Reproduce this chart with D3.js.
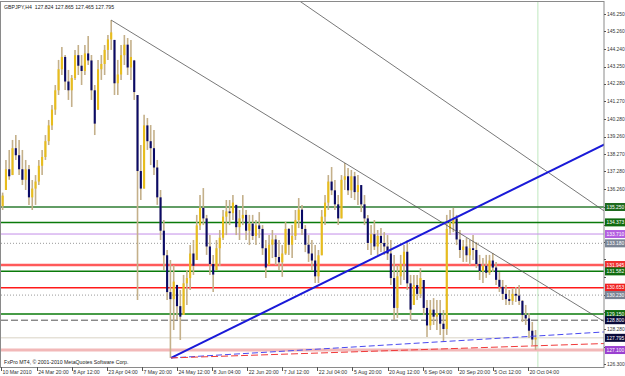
<!DOCTYPE html>
<html>
<head>
<meta charset="utf-8">
<script src="https://cdn.jsdelivr.net/npm/d3@7"></script>
<style>
body{margin:0;background:#fff;overflow:hidden}
text{font-family:"Liberation Sans", Arial, sans-serif}
</style>
</head>
<body>
<script>
// GBPJPY H4, drawn here as one candle per trading day (10 Mar - 22 Oct 2010)
let startDay = new Date(2010, 2, 10)
let nDays = 163

let opens = [
135.30,136.22,137.40,137.07,138.60,138.20,137.40,136.80,137.40,135.80,
136.30,136.70,137.60,138.10,139.00,139.90,140.80,141.90,143.10,143.80,
142.40,141.90,142.60,143.90,143.30,143.00,144.00,143.60,141.90,140.80,
143.10,143.40,144.20,144.80,144.77,142.30,142.80,143.90,144.50,143.20,
143.60,141.63,137.30,136.30,139.90,139.00,138.60,137.50,135.80,133.90,
132.50,130.40,130.00,130.81,129.60,129.10,130.90,131.20,132.60,132.23,
134.20,135.20,134.60,133.00,132.00,131.66,132.90,133.50,134.70,135.00,
134.90,135.37,134.10,134.60,134.80,133.90,134.30,133.60,134.20,134.00,
132.90,131.94,133.10,133.40,132.40,132.10,132.60,134.00,133.10,133.60,
134.50,135.10,134.00,133.10,132.60,132.20,131.30,132.50,134.70,135.50,
136.70,136.20,135.40,134.60,136.80,137.00,136.20,137.00,136.10,136.50,
135.40,134.60,133.20,133.70,133.00,133.60,133.20,133.00,132.60,131.20,
129.50,131.30,132.00,132.70,130.90,129.67,130.80,130.30,131.09,129.50,
128.50,129.40,129.00,129.20,128.60,128.30,134.00,134.30,134.60,133.40,
132.80,133.00,132.50,132.90,132.80,132.00,131.60,131.90,131.50,132.20,
131.80,131.10,130.70,130.30,130.00,129.90,130.30,130.20,129.90,129.10,
128.90,128.20,127.70]

let highs = [
136.07,137.93,138.50,139.07,139.35,139.07,138.50,137.93,137.64,136.79,
137.07,137.93,138.50,139.35,140.21,141.06,142.20,143.63,144.37,143.91,
143.06,142.77,144.20,144.48,143.91,144.48,144.99,143.91,142.20,143.63,
143.91,144.48,145.05,145.90,144.77,143.63,144.48,145.05,144.88,144.77,
143.63,141.63,138.78,140.50,140.32,139.92,139.64,137.93,136.22,134.51,
132.80,132.23,131.94,130.81,130.52,131.38,131.66,133.08,133.37,134.80,
135.93,136.33,134.80,133.65,132.52,133.37,133.94,135.08,135.65,135.65,
135.93,135.37,135.08,135.93,135.08,134.80,134.80,134.51,134.96,134.22,
133.37,133.65,133.94,133.65,133.37,133.08,134.40,134.05,134.22,135.08,
135.76,135.37,134.22,133.65,133.37,133.08,132.80,135.08,135.93,137.07,
137.53,136.79,135.93,137.07,137.76,137.47,137.36,137.25,137.07,136.50,
135.93,134.80,134.22,134.51,133.94,134.05,133.82,133.65,133.37,132.52,
131.94,132.52,133.08,133.37,131.38,131.38,131.38,131.77,131.09,129.95,
129.95,130.06,129.95,129.95,129.38,134.80,135.08,135.20,134.80,133.94,
133.37,133.48,133.37,133.65,133.25,132.52,132.34,132.52,132.52,132.63,
132.12,131.54,131.09,130.81,130.52,130.64,130.69,130.81,129.95,129.67,
129.21,128.70,128.24]

let lows = [
135.08,136.22,136.80,137.07,137.93,137.07,136.50,136.22,135.37,135.08,
135.37,136.50,137.07,137.93,138.78,139.64,140.50,141.63,142.77,141.92,
141.35,140.95,142.49,142.77,142.20,142.77,143.34,141.35,139.35,140.78,
142.49,142.77,143.63,144.20,141.63,141.63,142.49,143.34,142.77,142.49,
141.35,129.95,135.65,136.30,138.50,137.64,137.07,135.37,133.37,131.66,
129.95,126.65,128.24,128.81,127.67,129.10,129.67,130.52,131.38,132.23,
133.94,134.22,132.52,131.38,130.41,131.66,131.89,133.37,133.65,134.22,
134.51,133.65,133.37,134.22,133.37,133.08,133.37,133.08,133.48,132.52,
131.21,131.94,132.34,131.94,131.66,131.27,132.52,132.52,132.34,133.37,
134.05,133.65,132.68,132.12,131.66,130.92,130.92,132.50,134.22,135.08,
135.93,135.08,134.22,134.60,136.22,135.93,135.76,135.65,135.37,134.96,
134.22,132.80,132.52,132.80,132.52,132.68,132.52,132.23,130.81,128.81,
128.93,130.81,131.09,130.52,128.81,129.67,129.95,130.06,129.10,127.84,
128.24,128.53,128.24,127.96,127.56,127.96,133.65,133.82,133.08,132.34,
132.12,132.12,131.94,132.23,131.77,131.09,130.92,131.21,131.38,131.54,
130.81,130.41,129.95,129.67,129.67,129.67,129.84,129.67,128.70,128.53,
127.79,127.39,127.10]

let closes = [
135.90,137.40,137.00,138.60,138.20,137.40,136.80,137.40,135.80,136.30,
136.70,137.60,138.10,139.00,139.90,140.80,141.90,143.10,143.80,142.40,
141.90,142.60,143.90,143.30,143.00,144.00,143.60,141.90,140.00,143.10,
143.40,144.20,144.80,145.20,142.30,142.80,143.90,144.50,143.20,143.80,
141.80,137.30,136.30,139.90,139.00,138.60,137.50,135.80,133.90,132.50,
130.40,130.00,131.00,129.60,129.00,130.90,131.20,132.60,131.90,134.20,
135.20,134.60,133.00,132.00,131.40,132.90,133.50,134.70,135.00,134.90,
135.50,134.10,134.60,134.80,133.90,134.30,133.60,134.20,134.00,132.90,
131.80,133.10,133.40,132.40,132.10,132.60,134.00,133.10,133.60,134.50,
135.10,134.00,133.10,132.60,132.20,131.30,132.50,134.70,135.50,136.70,
136.20,135.40,134.60,136.80,137.00,136.20,137.00,136.10,136.50,135.40,
134.60,133.20,133.70,133.00,133.60,133.20,133.00,132.60,131.20,129.50,
131.30,132.00,132.70,130.90,129.40,130.80,130.30,131.20,129.50,128.50,
129.40,129.00,129.20,128.60,128.30,134.00,134.30,134.60,133.40,132.80,
133.00,132.50,132.90,132.80,132.00,131.60,131.90,131.50,132.20,131.80,
131.10,130.70,130.30,130.00,129.90,130.30,130.20,129.90,129.10,128.90,
128.20,127.70,127.80]

// time axis labels (every 64 H4 bars)
let timeLabels = ["10 Mar 2010","24 Mar 20:00","8 Apr 12:00","23 Apr 04:00","7 May 20:00",
  "24 May 12:00","8 Jun 04:00","22 Jun 20:00","7 Jul 12:00","22 Jul 04:00","5 Aug 20:00",
  "20 Aug 12:00","6 Sep 04:00","20 Sep 20:00","5 Oct 12:00","20 Oct 04:00"]

// price scale labels
let priceTicks = [146.25,145.26,144.24,143.25,142.28,141.27,140.28,139.26,138.27,137.28,136.26,
  135.27,134.25,133.26,132.27,131.28,130.26,129.27,128.28,127.29,126.30]

// horizontal line objects
let levelPrices = [135.250,134.373,133.710,133.180,131.945,131.582,130.653,130.230,129.150,128.800,127.795,127.100]
let levelNames  = ["135.250","134.373","133.710","133.180","131.945","131.582","130.653","130.230","129.150","128.800","127.795","127.100"]

// trend lines: [dayIndex1, price1, dayIndex2, price2, isRay]
let trendLines = [
  [33.5, 145.90, 104.5, 137.76, true],   // gray, from the April top
  [91.2, 146.93, 183.3, 135.03, false],  // gray, upper one
  [51.7, 126.65, 183.3, 138.81, true],   // blue thick
  [51.7, 126.65, 183.3, 128.13, true],   // blue dashed
  [51.7, 126.65, 183.3, 127.47, true]    // red dashed
]
let vlineDay = 163.2

let title = "GBPJPY,H4  127.824 127.865 127.465 127.795"
let copyright = "FxPro MT4, \u00a9 2001-2010 MetaQuotes Software Corp."

//-------- styles
let levelStyles = [
  {c:"#2e7d32", w:1.5, dash:null, box:"#1f6a1f", txt:"#fff"},
  {c:"#0a7a0a", w:1.5, dash:null, box:"#0f6b0f", txt:"#fff"},
  {c:"#c38ee8", w:1,   dash:null, box:"#b35ee0", txt:"#fff"},
  {c:"#9a9a9a", w:1,   dash:"1,2", box:"#7a8494", txt:"#fff"},
  {c:"#ff5a5a", w:2.5, dash:null, box:"#f03030", txt:"#fff"},
  {c:"#0a7a0a", w:1.5, dash:null, box:"#0f6b0f", txt:"#fff"},
  {c:"#ff1a1a", w:1.5, dash:null, box:"#f02020", txt:"#fff"},
  {c:"#9a9a9a", w:1,   dash:"1,2", box:"#7a8494", txt:"#fff"},
  {c:"#0a7a0a", w:1.5, dash:null, box:"#0f6b0f", txt:"#fff"},
  {c:"#555555", w:1,   dash:"7,3", box:"#0a0a3a", txt:"#fff"},
  {c:"#d8d2c4", w:1,   dash:null, box:"#0a0a3a", txt:"#fff"},
  {c:"#f2b8b8", w:3,   dash:null, box:"#9a40d0", txt:"#fff"}
]
let trendStyles = [
  {c:"#555", w:0.8, dash:null},
  {c:"#555", w:0.8, dash:null},
  {c:"#1a1ad8", w:2, dash:null},
  {c:"#4a4af0", w:1, dash:"6,3"},
  {c:"#f03a3a", w:1, dash:"7,3"}
]

let W = 625, H = 376
let plotL = 1, plotR = 604, plotT = 2, plotB = 367
let fontSize = 5.2
let axisFont = 4.9

// trading days (Mon-Fri)
let days = []
let dd = new Date(startDay)
while(days.length < nDays){
  let wd = dd.getDay()
  if(wd != 0 && wd != 6) days.push(new Date(dd))
  dd.setDate(dd.getDate() + 1)
}
let monthNames = ["Jan","Feb","Mar","Apr","May","Jun","Jul","Aug","Sep","Oct","Nov","Dec"]
function labelToIndex(lbl){
  let parts = lbl.split(" ")
  let day = +parts[0], mon = monthNames.indexOf(parts[1])
  let hour = parts[2].includes(":") ? +parts[2].split(":")[0] : 0
  let i = days.findIndex(d => d.getDate() == day && d.getMonth() == mon)
  return i + hour / 24
}

let x = d3.scaleLinear().domain([0, 183.3]).range([plotL, plotR])
let y = d3.scaleLinear().domain([126.133, 146.931]).range([plotB, plotT])

let svg = d3.select("body").append("svg")
  .attr("width", W).attr("height", H)
  .style("display", "block")

svg.append("defs").append("clipPath").attr("id", "plot")
  .append("rect").attr("x", plotL).attr("y", plotT)
  .attr("width", plotR - plotL).attr("height", plotB - plotT)

let plot = svg.append("g").attr("clip-path", "url(#plot)")

// vertical line
plot.append("line")
  .attr("x1", x(vlineDay)).attr("x2", x(vlineDay))
  .attr("y1", plotT).attr("y2", plotB)
  .attr("stroke", "#bfe8bf").attr("stroke-width", 1)

// horizontal levels
plot.selectAll("line.level")
  .data(levelPrices)
  .enter().append("line")
  .attr("class", "level")
  .attr("x1", plotL).attr("x2", plotR)
  .attr("y1", d => y(d)).attr("y2", d => y(d))
  .attr("stroke", (d, i) => levelStyles[i].c)
  .attr("stroke-width", (d, i) => levelStyles[i].w)
  .attr("stroke-dasharray", (d, i) => levelStyles[i].dash)

// candles
let idx = d3.range(nDays)
let bw = 2.1
plot.selectAll("line.wick")
  .data(idx)
  .enter().append("line")
  .attr("class", "wick")
  .attr("x1", i => x(i + 0.5)).attr("x2", i => x(i + 0.5))
  .attr("y1", i => y(highs[i])).attr("y2", i => y(lows[i]))
  .attr("stroke", "#c4b08a").attr("stroke-width", 1.6)

plot.selectAll("rect.body")
  .data(idx)
  .enter().append("rect")
  .attr("class", "body")
  .attr("x", i => x(i + 0.5) - bw / 2)
  .attr("width", bw)
  .attr("y", i => y(Math.max(opens[i], closes[i])))
  .attr("height", i => Math.max(1, Math.abs(y(opens[i]) - y(closes[i]))))
  .attr("fill", i => closes[i] >= opens[i] ? "#e8bd1c" : "#0a0a66")

// trend lines: rays start at their first point, others run across the plot
function priceAt(t, d){
  return t[1] + (t[3] - t[1]) / (t[2] - t[0]) * (d - t[0])
}
plot.selectAll("line.trend")
  .data(trendLines)
  .enter().append("line")
  .attr("class", "trend")
  .attr("x1", t => x(t[4] ? t[0] : -50))
  .attr("y1", t => y(priceAt(t, t[4] ? t[0] : -50)))
  .attr("x2", x(200))
  .attr("y2", t => y(priceAt(t, 200)))
  .attr("stroke", (t, i) => trendStyles[i].c)
  .attr("stroke-width", (t, i) => trendStyles[i].w)
  .attr("stroke-dasharray", (t, i) => trendStyles[i].dash)

// frame
svg.append("rect")
  .attr("x", plotL - 0.5).attr("y", plotT - 0.5)
  .attr("width", plotR - plotL + 0.5).attr("height", plotB - plotT + 1)
  .attr("fill", "none").attr("stroke", "#8a8a8a").attr("stroke-width", 1)

// price axis; labels hidden behind a line's box are skipped
let shownTicks = priceTicks.filter(p => !levelPrices.some(l => Math.abs(y(l) - y(p)) < 6.5))
svg.selectAll("line.ptick")
  .data(priceTicks)
  .enter().append("line")
  .attr("x1", plotR).attr("x2", plotR + 2)
  .attr("y1", d => Math.round(y(d)) + 0.5).attr("y2", d => Math.round(y(d)) + 0.5)
  .attr("stroke", "#555")
svg.selectAll("text.plabel")
  .data(shownTicks)
  .enter().append("text")
  .attr("x", plotR + 3).attr("y", d => y(d) + 1.8)
  .attr("font-size", axisFont).attr("fill", "#333")
  .text(d => d.toFixed(3))

// level label boxes
let boxes = svg.selectAll("g.box")
  .data(levelPrices)
  .enter().append("g")
  .attr("transform", d => `translate(${plotR + 1},${y(d) - 4})`)
boxes.append("rect")
  .attr("width", 20).attr("height", 8)
  .attr("fill", (d, i) => levelStyles[i].box)
boxes.append("text")
  .attr("x", 1.5).attr("y", 5.8)
  .attr("font-size", axisFont)
  .attr("fill", (d, i) => levelStyles[i].txt)
  .text((d, i) => levelNames[i])

// time axis
svg.selectAll("line.ttick")
  .data(timeLabels)
  .enter().append("line")
  .attr("x1", d => Math.round(x(labelToIndex(d))) + 0.5)
  .attr("x2", d => Math.round(x(labelToIndex(d))) + 0.5)
  .attr("y1", plotB).attr("y2", plotB + 4)
  .attr("stroke", "#555")
svg.selectAll("text.tlabel")
  .data(timeLabels)
  .enter().append("text")
  .attr("x", d => x(labelToIndex(d)) + 1.5)
  .attr("y", H - 2)
  .attr("font-size", fontSize).attr("fill", "#333")
  .text(d => d)

// title and copyright
svg.append("text").attr("x", 4).attr("y", 9)
  .attr("font-size", fontSize).attr("fill", "#222")
  .style("white-space", "pre")
  .text(title)
svg.append("text").attr("x", 4).attr("y", plotB - 3)
  .attr("font-size", fontSize).attr("fill", "#222")
  .text(copyright)
</script>
</body>
</html>
